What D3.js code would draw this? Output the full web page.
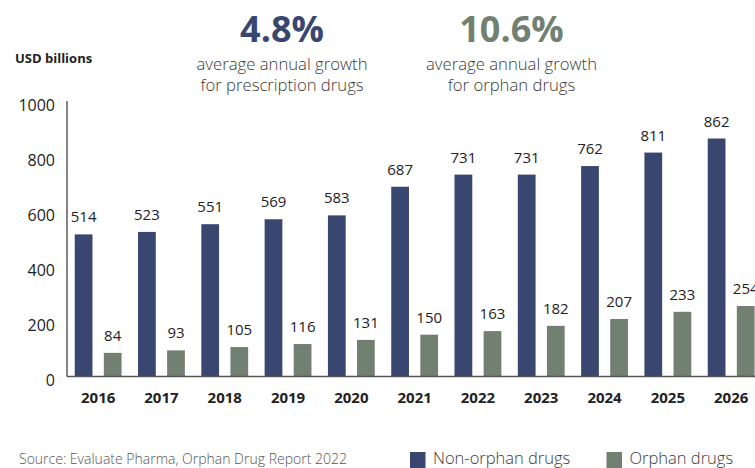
<html>
    <head>
        <style>
            body { margin: 0; background: #fff; }
            svg { font-family: "Open Sans", sans-serif; display: block; }
            .value { font-size: 15px; fill: #222; text-anchor: middle; }
            .sub { font-size: 16.7px; font-weight: 300; fill: #3a3a3a; text-anchor: middle; }
        </style>
    </head>
    <body>
        <svg id="container" height="468" width="755">
            <g id="body"></g>
        </svg>
    </body>
    <script src="https://d3js.org/d3.v7.min.js" charset="utf-8"></script>
    <script>
        let years = ["2016", "2017", "2018", "2019", "2020", "2021", "2022", "2023", "2024", "2025", "2026"]
        let nonOrphan = [514, 523, 551, 569, 583, 687, 731, 731, 762, 811, 862]
        let orphan = [84, 93, 105, 116, 131, 150, 163, 182, 207, 233, 254]
        let seriesNames = ["Non-orphan drugs", "Orphan drugs"]
        let yTicks = [0, 200, 400, 600, 800, 1000]

        let colors = { "Non-orphan drugs": "#39466f", "Orphan drugs": "#728071" }

        let svg = d3.select("#container")
        let body = d3.select("#body")

        // table built from the arrays
        let data = years.map((y, i) => ({
            year: y,
            values: [
                { key: seriesNames[0], value: nonOrphan[i] },
                { key: seriesNames[1], value: orphan[i] }
            ]
        }))

        let left = 66.5
        let step = 63.3
        let baseY = 376

        let yScale = d3.scaleLinear()
            .domain([0, 1000])
            .range([baseY, 100.5])

        let x0 = d3.scaleBand()
            .domain(years)
            .range([left, left + step * years.length])
            .paddingInner(0.26)
            .paddingOuter(0.13)

        let x1 = d3.scaleBand()
            .domain(seriesNames)
            .range([0, x0.bandwidth()])
            .paddingInner(0.39)

        // y axis
        let yAxis = body.append("g")
            .attr("transform", "translate(" + left + ",0)")
            .call(d3.axisLeft(yScale).tickValues(yTicks).tickSize(0).tickPadding(11.5).tickFormat(d3.format("d")))
        yAxis.select(".domain").attr("stroke", "#333").attr("stroke-width", 1.2)
        yAxis.selectAll("text")
            .attr("dy", "0.62em")
            .style("font-size", "16px")
            .style("font-family", "Open Sans, sans-serif")
            .attr("fill", "#222")

        // bars
        let groups = body.selectAll(".group")
            .data(data)
            .enter().append("g")
            .attr("class", "group")
            .attr("transform", d => "translate(" + x0(d.year) + ",0)")

        groups.selectAll("rect")
            .data(d => d.values)
            .enter().append("rect")
            .attr("x", d => x1(d.key))
            .attr("width", x1.bandwidth())
            .attr("y", d => yScale(d.value))
            .attr("height", d => baseY - yScale(d.value))
            .attr("fill", d => colors[d.key])

        groups.selectAll(".value")
            .data(d => d.values)
            .enter().append("text")
            .attr("class", "value")
            .attr("x", d => x1(d.key) + x1.bandwidth() / 2)
            .attr("y", d => yScale(d.value) - 12)
            .text(d => d.value)

        // x axis
        let xAxis = body.append("g")
            .attr("transform", "translate(0," + baseY + ")")
            .call(d3.axisBottom(x0).tickSize(0).tickPadding(16.5))
        xAxis.select(".domain").attr("stroke", "#555").attr("stroke-width", 1.5)
        xAxis.selectAll("text")
            .style("font-size", "15px")
            .style("font-weight", "bold")
            .style("font-family", "Open Sans, sans-serif")
            .attr("fill", "#222")

        // titles
        svg.append("text")
            .attr("x", 15).attr("y", 63)
            .style("font-size", "13px").style("font-weight", "bold")
            .attr("fill", "#222")
            .text("USD billions")

        let headers = [
            { big: "4.8%", color: colors["Non-orphan drugs"], x: 282, lines: ["average annual growth", "for prescription drugs"] },
            { big: "10.6%", color: colors["Orphan drugs"], x: 511.5, lines: ["average annual growth", "for orphan drugs"] }
        ]
        headers.forEach(h => {
            svg.append("text")
                .attr("x", h.x).attr("y", 41.5)
                .attr("text-anchor", "middle")
                .style("font-size", "36px").style("font-weight", "bold")
                .attr("fill", h.color)
                .text(h.big)
            h.lines.forEach((l, i) => {
                svg.append("text")
                    .attr("class", "sub")
                    .attr("x", h.x).attr("y", 70 + i * 21)
                    .text(l)
            })
        })

        // source
        svg.append("text")
            .attr("x", 19).attr("y", 463.5)
            .style("font-size", "14px").style("font-weight", 300)
            .attr("fill", "#555")
            .text("Source: Evaluate Pharma, Orphan Drug Report 2022")

        // legend
        let legendX = [410, 606.5]
        let legend = svg.selectAll(".legend")
            .data(seriesNames)
            .enter().append("g")
            .attr("class", "legend")
            .attr("transform", (d, i) => "translate(" + legendX[i] + ",452)")
        legend.append("rect")
            .attr("width", 15.5).attr("height", 16)
            .attr("fill", d => colors[d])
        legend.append("text")
            .attr("x", 23).attr("y", 12)
            .style("font-size", "16.5px").style("font-weight", 300)
            .attr("fill", "#3a3a3a")
            .text(d => d)
    </script>
</html>
